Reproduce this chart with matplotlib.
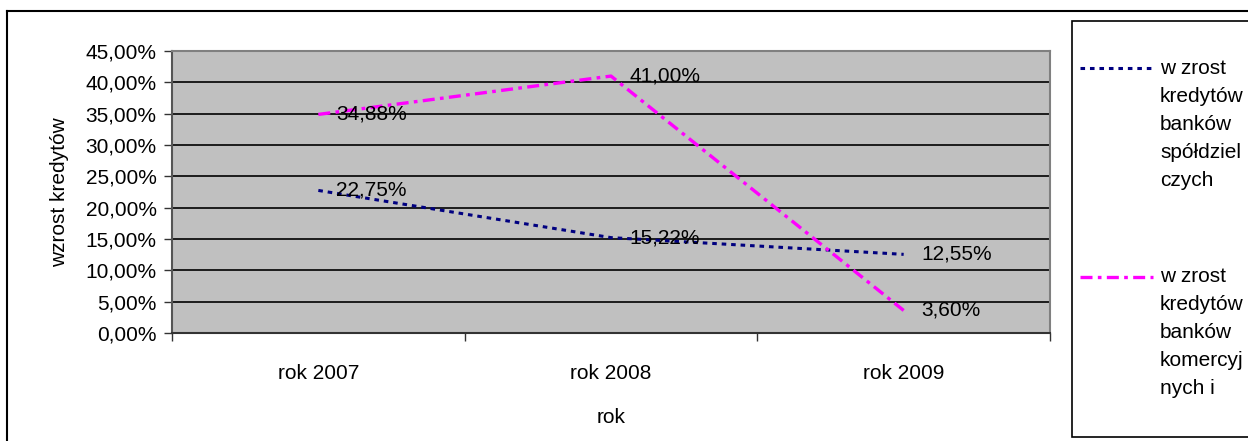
import matplotlib
matplotlib.use("Agg")
import matplotlib.pyplot as plt
from matplotlib.lines import Line2D
from matplotlib.patches import Rectangle
from matplotlib.ticker import FixedLocator, MultipleLocator, FuncFormatter

plt.rcParams['font.family'] = ['Liberation Sans', 'DejaVu Sans']

# dane
lata = ['rok 2007', 'rok 2008', 'rok 2009']
spoldzielcze = [22.75, 15.22, 12.55]
komercyjne = [34.88, 41.00, 3.60]
nazwa_spold = ['w zrost', 'kredytów', 'banków', 'spółdziel', 'czych']
nazwa_kom = ['w zrost', 'kredytów', 'banków', 'komercyj', 'nych i']

W, H = 1248, 441
fig = plt.figure(figsize=(W / 100, H / 100), dpi=100)

def fx(px):
    return px / W

def fy(py):
    return 1 - py / H

# ramka zewnętrzna
fig.add_artist(Line2D([fx(7), fx(7)], [fy(11), fy(445)], color='black', lw=1.5))
fig.add_artist(Line2D([fx(7), fx(1260)], [fy(11), fy(11)], color='black', lw=1.5))

ax = fig.add_axes([fx(172), fy(333), fx(1050) - fx(172), fy(51) - fy(333)])
ax.set_facecolor('#C0C0C0')

styl_spold = dict(color='#000080', lw=2.2, dashes=(1.5, 1.6))
styl_kom = dict(color='#FF00FF', lw=2.4, dashes=(3.6, 1.6, 1.1, 1.6))

x = list(range(len(lata)))
ax.plot(x, spoldzielcze, zorder=3, **styl_spold)
ax.plot(x, komercyjne, zorder=3, **styl_kom)

fmt = lambda v: f"{v:.2f}%".replace('.', ',')
for xi, v in zip(x, spoldzielcze):
    ax.annotate(fmt(v), (xi, v), xytext=(13, 0), textcoords='offset points',
                ha='left', va='center', fontsize=15, color='black', zorder=4)
for xi, v in zip(x, komercyjne):
    ax.annotate(fmt(v), (xi, v), xytext=(13, 0), textcoords='offset points',
                ha='left', va='center', fontsize=15, color='black', zorder=4)

ax.set_xlim(-0.5, 2.5)
ax.set_ylim(0, 45)
ax.yaxis.set_major_locator(MultipleLocator(5))
ax.yaxis.set_major_formatter(FuncFormatter(lambda v, p: fmt(v)))
ax.grid(axis='y', color='black', lw=1.2, zorder=1)
ax.set_axisbelow(True)

ax.set_xticks(x)
ax.set_xticklabels(lata)
ax.xaxis.set_minor_locator(FixedLocator([-0.5, 0.5, 1.5, 2.5]))
ax.tick_params(axis='x', which='major', length=0, pad=22, labelsize=15)
ax.tick_params(axis='x', which='minor', length=6, width=1, color='#333333')
ax.tick_params(axis='y', length=6, width=1, pad=5, labelsize=15, color='#333333')

for s in ['top', 'right']:
    ax.spines[s].set_color('#808080')
    ax.spines[s].set_linewidth(1.5)
ax.spines['left'].set_color('#555555')
ax.spines['left'].set_linewidth(1.5)
ax.spines['bottom'].set_color('#333333')
ax.spines['bottom'].set_linewidth(1.5)

ax.set_xlabel('rok', fontsize=15, labelpad=18)
ax.set_ylabel('wzrost kredytów', fontsize=15, labelpad=12)

# legenda
fig.add_artist(Rectangle((fx(1072), fy(437)), fx(1300) - fx(1072), fy(21) - fy(437),
                         facecolor='white', edgecolor='black', lw=1.2))
fig.add_artist(Line2D([fx(1080), fx(1153)], [fy(68), fy(68)], **styl_spold))
fig.add_artist(Line2D([fx(1080), fx(1153)], [fy(277), fy(277)], **styl_kom))
for i, t in enumerate(nazwa_spold):
    fig.text(fx(1160), fy(68 + 28 * i), t, fontsize=15, ha='left', va='center')
for i, t in enumerate(nazwa_kom):
    fig.text(fx(1160), fy(277 + 28 * i), t, fontsize=15, ha='left', va='center')

fig.savefig('out.png', dpi=100, facecolor='white')
